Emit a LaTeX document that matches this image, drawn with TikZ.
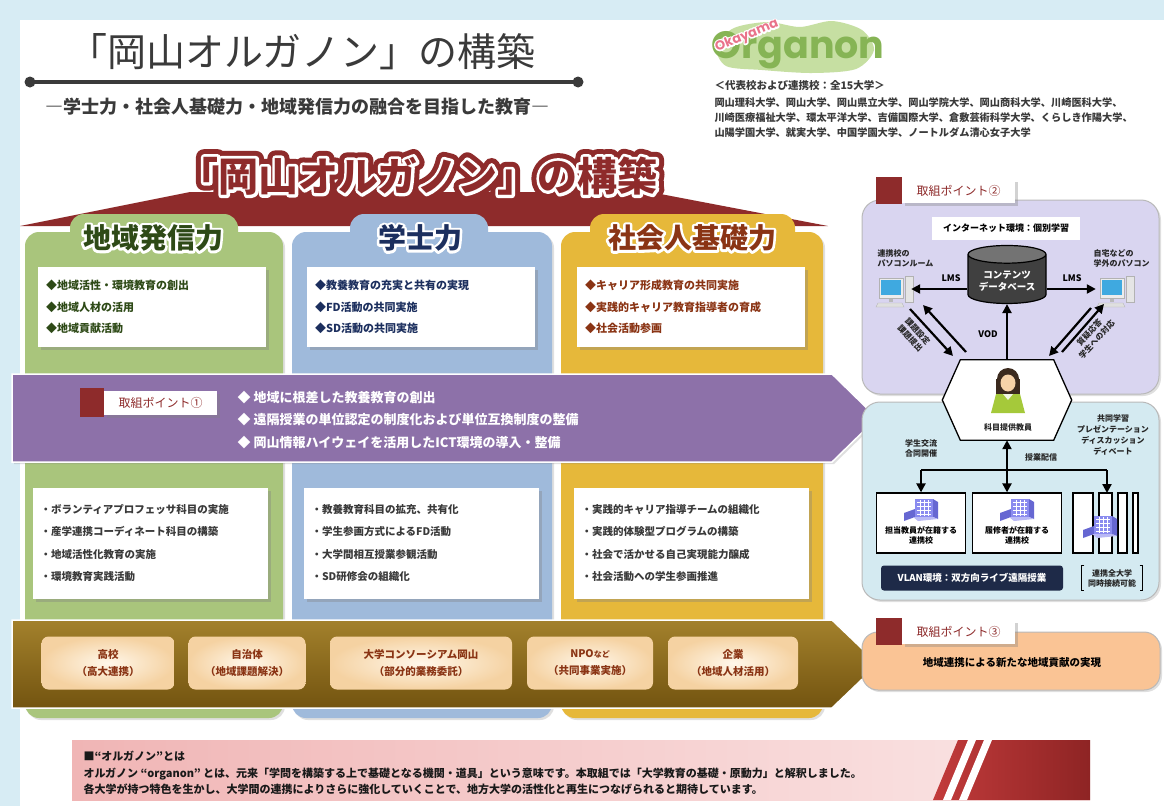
\documentclass[tikz,border=0pt]{standalone}
\usepackage{fontspec}
\setmainfont{Noto Sans CJK JP}
\newfontfamily\halotab[FakeBold=18]{Noto Sans CJK JP}
\newfontfamily\halowhite[FakeBold=15]{Noto Sans CJK JP}
\newfontfamily\halored[FakeBold=40]{Noto Sans CJK JP}
\newfontfamily\logofont{Poppins}
\newfontfamily\logohalo[FakeBold=23]{Poppins}
\usepackage{tikz}
\usetikzlibrary{calc,positioning,arrows.meta,shadows,shapes.geometric}

\definecolor{pagebg}{HTML}{D7ECF4}
\definecolor{titlegray}{HTML}{3A3A3A}
\definecolor{roofred}{HTML}{8E2B2B}
\definecolor{colgreen}{HTML}{A9C57C}
\definecolor{colblue}{HTML}{9FBADB}
\definecolor{colgold}{HTML}{E6B83A}
\definecolor{txtgreen}{HTML}{2E4A17}
\definecolor{txtnavy}{HTML}{1C2F5E}
\definecolor{txtbrown}{HTML}{8A3414}
\definecolor{bandpurple}{HTML}{8D71A9}
\definecolor{bandtop}{HTML}{A3812C}
\definecolor{bandbottom}{HTML}{735410}
\definecolor{partnerin}{HTML}{FFF7EA}
\definecolor{partnerout}{HTML}{F5D2A2}
\definecolor{lavender}{HTML}{D9D5F0}
\definecolor{paleblue}{HTML}{D4EAF1}
\definecolor{peach}{HTML}{FAC495}
\definecolor{navybar}{HTML}{1E2A48}
\definecolor{screenblue}{HTML}{3FA9E0}
\definecolor{bldg}{HTML}{8A8BEF}
\definecolor{bldgside}{HTML}{6667D2}
\definecolor{skin}{HTML}{F6D2A8}
\definecolor{haircol}{HTML}{3B2A1E}
\definecolor{shirt}{HTML}{A5C93A}
\definecolor{pinkL}{HTML}{F0B5B5}
\definecolor{pinkR}{HTML}{FBE6E6}
\definecolor{stripered}{HTML}{C23B3B}
\definecolor{stripedark}{HTML}{8E2424}
\definecolor{mapgreen}{HTML}{C6DFA2}
\definecolor{logogreen}{HTML}{86B455}
\definecolor{logopink}{HTML}{E9738A}

% outlined text: a widened copy behind the plain one
\newcommand\halotext[6]{%
  \node[#3,text=#4,line join=round] at (#2) {#5#6};
  \node[#3] (#1) at (#2) {#6};}

\begin{document}
\begin{tikzpicture}[x=1pt,y=-1pt,
  colshadow/.style={drop shadow={shadow xshift=2pt,shadow yshift=-2pt,opacity=0.25}},
  boxshadow/.style={drop shadow={shadow xshift=3pt,shadow yshift=-3pt,opacity=0.35}},
  rooftitle/.style={font=\bfseries\fontsize{40}{42}\selectfont,text=roofred},
  tabtext/.style={font=\bfseries\fontsize{28}{30}\selectfont},
  upbox/.style={fill=white,minimum width=228,minimum height=80,text width=212,inner sep=8,
    align=left,font=\bfseries\fontsize{11}{21.5}\selectfont,boxshadow},
  lowbox/.style={fill=white,minimum width=235,minimum height=111,text width=219,inner sep=8,
    align=left,font=\bfseries\fontsize{10.5}{22.3}\selectfont,text=titlegray,boxshadow},
  partner/.style={rounded corners=7,inner color=partnerin,outer color=partnerout,
    minimum height=53,align=center,font=\bfseries\fontsize{10.5}{17}\selectfont,text=txtbrown},
  ptlabel/.style={fill=white,minimum width=113,minimum height=24,anchor=west,
    text=roofred,font=\fontsize{12}{14}\selectfont,boxshadow},
  small/.style={font=\bfseries\fontsize{8}{10}\selectfont,align=center,text=black!85},
  bigarrow/.style={line width=2.2,-{Triangle[length=9pt,width=9pt]}},
  twoway/.style={line width=2.2,{Triangle[length=9pt,width=9pt]}-{Triangle[length=9pt,width=9pt]}},
  campus/.style={draw=black,line width=1.3,fill=white,minimum width=89,minimum height=60},
  pc/.pic={
    \fill[gray!55] (-4,9) rectangle (0,13);
    \filldraw[fill=gray!15,draw=gray!60] (-14,-11) rectangle (10,9);
    \fill[screenblue] (-12,-9) rectangle (8,6);
    \filldraw[fill=gray!20,draw=gray!60] (12,-13) rectangle (20,13);
    \filldraw[fill=gray!25,draw=gray!60] (-15,14) -- (9,14) -- (11,18) -- (-17,18) -- cycle;
  },
  building/.pic={
    \fill[bldgside] (-17,4) -- (-6,0) -- (-6,8) -- (-17,12) -- cycle;
    \fill[bldg] (-6,-10) -- (12,-10) -- (12,8) -- (-6,8) -- cycle;
    \fill[bldgside] (12,-10) -- (17,-7) -- (17,10) -- (12,8) -- cycle;
    \fill[bldg!60] (-8,8) -- (12,8) -- (17,10) -- (-3,12) -- cycle;
    \foreach \wy in {-7,-3,1,5}
      \draw[white,line width=0.7] (-4,\wy) -- (10,\wy);
    \foreach \wx in {-1,3,7}
      \draw[white,line width=0.7] (\wx,-9) -- (\wx,7);
  }]

\useasboundingbox (0,0) rectangle (1164,806);
\fill[pagebg] (0,0) rectangle (1164,806);
\fill[white] (20,20) rectangle (1164,806);

% heading
\node[font=\fontsize{39}{41}\selectfont,text=titlegray] (title) at (302,52) {「岡山オルガノン」の構築};
\coordinate (ruleL) at (30,82);
\coordinate (ruleR) at (578,82);
\draw[line width=3.5,titlegray] (ruleL) -- (ruleR);
\fill[titlegray] (ruleL) circle (5.5) (ruleR) circle (5.5);
\node[font=\bfseries\fontsize{18}{20}\selectfont,text=titlegray] (subtitle) at (297,107)
  {―学士力・社会人基礎力・地域発信力の融合を目指した教育―};

% logo and member list
\fill[mapgreen] plot[smooth cycle] coordinates {(716,46) (734,28) (768,22) (800,27) (832,21) (862,30) (874,50) (856,69) (812,73) (762,70) (726,66)};
\node[font=\logofont\bfseries\fontsize{38}{40}\selectfont,text=logogreen] (organon) at (798,50) {Organon};
\halotext{okayama}{747,36}{rotate=22,font=\logofont\bfseries\fontsize{13}{14}\selectfont,text=logopink}{white}{\logohalo}{Okayama}
\node[anchor=west,font=\bfseries\fontsize{10.5}{12}\selectfont,text=titlegray] (members) at (711,85)
  {＜代表校および連携校：全15大学＞};
\node[anchor=north west,align=left,font=\bfseries\fontsize{10.2}{15}\selectfont,text=titlegray] (unilist) at (711,94)
  {岡山理科大学、岡山大学、岡山県立大学、岡山学院大学、岡山商科大学、川崎医科大学、\\
   川崎医療福祉大学、環太平洋大学、吉備国際大学、倉敷芸術科学大学、くらしき作陽大学、\\
   山陽学園大学、就実大学、中国学園大学、ノートルダム清心女子大学};

% roof
\fill[roofred] (20,226) -- (190,192) -- (650,192) -- (828,226) -- cycle;
\node[rooftitle,line join=round] at (418,176) {\halored 「岡山オルガノン」の構築};
\node[rooftitle,text=white,line join=round] at (418,176) {\halowhite 「岡山オルガノン」の構築};
\node[rooftitle] (roofTitle) at (418,176) {「岡山オルガノン」の構築};

% three columns
\foreach \xa/\xb/\tl/\tr/\col in {25/283/70/238/colgreen,292/552/350/488/colblue,561/823/590/795/colgold}{
  \fill[\col,colshadow,rounded corners=14] (\xa,232) rectangle (\xb,718);
  \fill[\col,rounded corners=14] (\tl,214) rectangle (\tr,262);
}
\halotext{tabRegion}{153,238}{tabtext,text=txtgreen}{white}{\halotab}{地域発信力}
\halotext{tabBachelor}{420,238}{tabtext,text=txtnavy}{white}{\halotab}{学士力}
\halotext{tabSociety}{692,238}{tabtext,text=txtbrown}{white}{\halotab}{社会人基礎力}

\node[upbox,text=txtgreen] (upRegion) at (152,307)
  {◆地域活性・環境教育の創出\\◆地域人材の活用\\◆地域貢献活動};
\node[upbox,text=txtnavy] (upBachelor) at (421,307)
  {◆教養教育の充実と共有の実現\\◆FD活動の共同実施\\◆SD活動の共同実施};
\node[upbox,text=txtbrown] (upSociety) at (691,307)
  {◆キャリア形成教育の共同実施\\◆実践的キャリア教育指導者の育成\\◆社会活動参画};

% point 1
\filldraw[fill=bandpurple,draw=white,line width=1.5,colshadow] (12,374) -- (832,374) -- (877,418) -- (832,462) -- (12,462) -- cycle;
\fill[roofred] (80,388) rectangle (104,417);
\node[ptlabel] (point1) at (104,403) {取組ポイント①};
\node[anchor=west,align=left,text=white,font=\bfseries\fontsize{13}{22.5}\selectfont] (aims) at (234,420)
  {◆ 地域に根差した教養教育の創出\\◆ 遠隔授業の単位認定の制度化および単位互換制度の整備\\◆ 岡山情報ハイウェイを活用したICT環境の導入・整備};

\node[lowbox] (lowRegion) at (150,543)
  {・ボランティアプロフェッサ科目の実施\\・産学連携コーディネート科目の構築\\・地域活性化教育の実施\\・環境教育実践活動};
\node[lowbox] (lowBachelor) at (421,543)
  {・教養教育科目の拡充、共有化\\・学生参画方式によるFD活動\\・大学間相互授業参観活動\\・SD研修会の組織化};
\node[lowbox] (lowSociety) at (691,543)
  {・実践的キャリア指導チームの組織化\\・実践的体験型プログラムの構築\\・社会で活かせる自己実現能力醸成\\・社会活動への学生参画推進};

% partners
\filldraw[top color=bandtop,bottom color=bandbottom,draw=white,line width=1.5] (12,620) -- (832,620) -- (878,664) -- (832,708) -- (12,708) -- cycle;
\node[partner,minimum width=133] (highschool) at (108,663) {高校\\（高大連携）};
\node[partner,minimum width=117] (municipal) at (247,663) {自治体\\（地域課題解決）};
\node[partner,minimum width=182] (consortium) at (421,663) {大学コンソーシアム岡山\\（部分的業務委託）};
\node[partner,minimum width=126] (npo) at (590,663) {NPO{\fontsize{8}{8}\selectfont など}\\（共同事業実施）};
\node[partner,minimum width=130] (company) at (733,663) {企業\\（地域人材活用）};

% point 2
\filldraw[fill=lavender,draw=gray!55,line width=1,rounded corners=18,colshadow] (862,200) rectangle (1159,394);
\filldraw[fill=paleblue,draw=gray!55,line width=1,rounded corners=18,colshadow] (862,402) rectangle (1159,600);
\fill[roofred] (876,177) rectangle (902,204);
\node[ptlabel] (point2) at (902,191) {取組ポイント②};

\node[fill=white,minimum width=148,minimum height=23,font=\bfseries\fontsize{9}{11}\selectfont] (internet) at (1006,228)
  {インターネット環境：個別学習};
\node[cylinder,shape border rotate=90,aspect=0.28,minimum width=78,minimum height=58,
  cylinder uses custom fill,cylinder body fill=black!75,cylinder end fill=black!55,draw=black,line width=1.2,
  text=white,align=center,font=\bfseries\fontsize{9.5}{12}\selectfont] (db) at (1007,281) {コンテンツ\\データベース};

\node[minimum width=36,minimum height=32] (pcL) at (893,289) {};
\pic at (pcL) {pc};
\node[minimum width=36,minimum height=32] (pcR) at (1114,289) {};
\pic at (pcR) {pc};
\node[small,anchor=west,align=left] (roomLabel) at (874,258) {連携校の\\パソコンルーム};
\node[small,anchor=west,align=left] (homeLabel) at (1090,258) {自宅などの\\学外のパソコン};

\draw[bigarrow] (db.west |- pcL.east) -- (pcL.east);
\draw[bigarrow] (db.east |- pcR.west) -- (pcR.west);
\node[font=\bfseries\fontsize{9}{10}\selectfont] (lmsL) at (951,278) {LMS};
\node[font=\bfseries\fontsize{9}{10}\selectfont] (lmsR) at (1072,278) {LMS};

% teacher hexagon
\node[minimum width=93,minimum height=80] (hexa) at (1007,400) {};
\filldraw[fill=white,draw=black,line width=1.3] (hexa.north west) -- (hexa.north east) -- ($(hexa.east)+(18,0)$)
  -- (hexa.south east) -- (hexa.south west) -- ($(hexa.west)+(-18,0)$) -- cycle;
\fill[haircol] (1008,379) circle (11);
\fill[haircol] (996,379) rectangle (1020,394);
\fill[skin] (1008,383) ellipse (7.5 and 8.5);
\fill[shirt] (996,394) -- (1020,394) -- (1025,413) -- (991,413) -- cycle;
\fill[white!85!shirt] (1003,394) -- (1008,400) -- (1013,394) -- cycle;
\node[small] (teacher) at (1008,427) {科目提供教員};

\draw[bigarrow] (hexa.north) -- (db.south);
\node[font=\bfseries\fontsize{9}{10}\selectfont] (vod) at (988,334) {VOD};

\coordinate (lA1) at (910,309);
\coordinate (lA2) at (953,356);
\coordinate (lB1) at (966,352);
\coordinate (lB2) at (923,305);
\draw[bigarrow] (lA1) -- (lA2);
\draw[bigarrow] (lB1) -- (lB2);
\coordinate (rA1) at (1062,352);
\coordinate (rA2) at (1104,304);
\coordinate (rB1) at (1091,308);
\coordinate (rB2) at (1049,356);
\draw[bigarrow] (rA1) -- (rA2);
\draw[bigarrow] (rB1) -- (rB2);
\node[small,rotate=-47] (taskLabel) at (914,335) {課題設定\\課題提出};
\node[small,rotate=47] (qaLabel) at (1093,336) {質疑応答\\学生への対応};

% live lecture network
\node[campus] (campusA) at (921,523) {};
\node[campus] (campusB) at (1017,523) {};
\pic at ($(campusA.center)+(0,-14)$) {building};
\pic at ($(campusB.center)+(0,-14)$) {building};
\node[small,text=black] at ($(campusA.center)+(0,12)$) {担当教員が在籍する\\連携校};
\node[small,text=black] at ($(campusB.center)+(0,12)$) {履修者が在籍する\\連携校};
\foreach \sa/\sb in {1073/1093,1099/1112,1118/1127,1133/1138}
  \draw[line width=1.3,fill=white] (\sa,493) rectangle (\sb,553);
\coordinate (allCampus) at (1107,493);
\pic at (1100,526) {building};

\coordinate (busL) at (campusA.north |- 0,470);
\coordinate (busR) at (allCampus |- 0,470);
\draw[line width=2.2] (busL) -- (busR);
\draw[bigarrow] (busL) -- (campusA.north);
\draw[bigarrow] (busR) -- (allCampus);
\draw[twoway] (hexa.south -| db.south) -- (db.south |- campusB.north);
\node[small] (exchange) at (921,448) {学生交流\\合同開催};
\node[small] (delivery) at (1041,457) {授業配信};
\node[small,font=\bfseries\fontsize{8}{11}\selectfont] (collab) at (1113,435) {共同学習\\プレゼンテーション\\ディスカッション\\ディベート};

\node[fill=navybar,rounded corners=3,minimum width=182,minimum height=25,text=white,
  font=\bfseries\fontsize{9.5}{11}\selectfont] (vlan) at (972,578) {VLAN環境：双方向ライブ遠隔授業};
\node[small] (simul) at (1112,578) {連携全大学\\同時接続可能};
\draw[line width=1.2] ([xshift=-3]simul.north west) ++(3,0) -- ++(-3,0) -- ([xshift=-3]simul.south west) -- ++(3,0);
\draw[line width=1.2] ([xshift=3]simul.north east) ++(-3,0) -- ++(3,0) -- ([xshift=3]simul.south east) -- ++(-3,0);

% point 3
\filldraw[fill=peach,draw=gray!55,line width=1,rounded corners=16,colshadow] (862,632) rectangle (1160,690);
\fill[roofred] (876,618) rectangle (902,645);
\node[ptlabel] (point3) at (902,632) {取組ポイント③};
\node[font=\bfseries\fontsize{10.5}{12}\selectfont] (contribution) at (1012,663) {地域連携による新たな地域貢献の実現};

% note on the name
\shade[left color=pinkL,right color=pinkR] (72,740) rectangle (1090,800);
\shade[left color=stripered,right color=stripedark] (958,740) -- (1090,740) -- (1090,800) -- (933,800) -- cycle;
\fill[white] (968,740) -- (976,740) -- (951,800) -- (943,800) -- cycle;
\fill[white] (984,740) -- (992,740) -- (967,800) -- (959,800) -- cycle;
\node[anchor=west,align=left,font=\bfseries\fontsize{11}{16.5}\selectfont,text=black!90] (note) at (80,773)
  {■“オルガノン”とは\\
   オルガノン “organon” とは、元来「学問を構築する上で基礎となる機関・道具」という意味です。本取組では「大学教育の基礎・原動力」と解釈しました。\\
   各大学が持つ特色を生かし、大学間の連携によりさらに強化していくことで、地方大学の活性化と再生につなげられると期待しています。};

\end{tikzpicture}
\end{document}
